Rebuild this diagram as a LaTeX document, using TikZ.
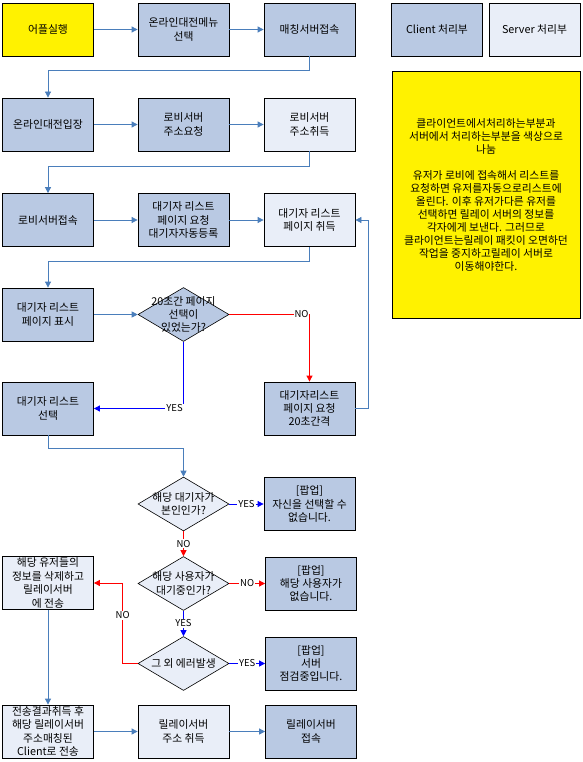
\documentclass[tikz,border=0pt]{standalone}
\usepackage{fontspec}
\setmainfont{Noto Sans CJK KR}
\usetikzlibrary{shapes.geometric,arrows.meta}
\definecolor{bgray}{HTML}{B9C9E3}
\definecolor{lgray}{HTML}{E9EEF8}
\definecolor{cblue}{HTML}{4A7EBB}
\begin{document}
\begin{tikzpicture}[x=1pt,y=-1pt,font=\fontsize{10.8}{13.4}\selectfont,
  box/.style={draw=black,line width=0.8pt,minimum width=91pt,minimum height=53pt,inner sep=1pt,align=center},
  cbox/.style={box,fill=bgray},
  sbox/.style={box,fill=lgray},
  ybox/.style={box,fill=yellow},
  dia/.style={diamond,draw=black,line width=0.6pt,minimum width=91pt,minimum height=54pt,inner sep=0pt},
  dtext/.style={align=center,inner sep=0pt},
  tip/.style={-{Triangle[length=6pt,width=6pt]}},
  conn/.style={draw=cblue,line width=0.8pt,tip},
  yesl/.style={draw=blue,line width=0.8pt,tip},
  nol/.style={draw=red,line width=0.8pt,tip},
  lab/.style={fill=white,inner sep=1pt,text=black,font=\fontsize{9.5}{10}\selectfont}]
\useasboundingbox (0,0) rectangle (582,762);
\fill[white] (0,0) rectangle (582,762);
% row 1
\node[ybox] (app) at (48,29.5) {어플실행};
\node[cbox] (menu) at (183.5,29.5) {온라인대전메뉴\\선택};
\node[cbox] (match) at (309.5,29.5) {매칭서버접속};
\node[cbox] (clientk) at (437,29.5) {Client 처리부};
\node[sbox] (serverk) at (534.5,29.5) {Server 처리부};
% row 2
\node[cbox] (enter) at (48,124.5) {온라인대전입장};
\node[cbox] (lreq) at (183.5,124.5) {로비서버\\주소요청};
\node[sbox] (lget) at (309.5,124.5) {로비서버\\주소취득};
% note
\node[box,fill=yellow,minimum width=188pt,minimum height=247pt,font=\fontsize{10.8}{13}\selectfont] (note) at (486,194.5) {클라이언트에서처리하는부분과\\서버에서 처리하는부분을 색상으로\\나눔\\[13pt]유저가 로비에 접속해서 리스트를\\요청하면 유저를자동으로리스트에\\올린다. 이후 유저가다른 유저를\\선택하면 릴레이 서버의 정보를\\각자에게 보낸다. 그러므로\\클라이언트는릴레이 패킷이 오면하던\\작업을 중지하고릴레이 서버로\\이동해야한다.};
% row 3
\node[cbox] (lconn) at (48,220) {로비서버접속};
\node[cbox] (wreq) at (183.5,220) {대기자 리스트\\페이지 요청\\대기자자동등록};
\node[sbox] (wget) at (309.5,220) {대기자 리스트\\페이지 취득};
% row 4
\node[cbox] (wshow) at (48,314.5) {대기자 리스트\\페이지 표시};
\node[dia,fill=bgray] (d1) at (183.5,314.5) {};
\node[dtext] at (d1) {20초간 페이지\\선택이\\있었는가?};
% row 5
\node[cbox] (wsel) at (48,408.5) {대기자 리스트\\선택};
\node[cbox] (req20) at (309.5,408.5) {대기자리스트\\페이지 요청\\20초간격};
% decisions
\node[dia,fill=lgray] (d2) at (183.5,504) {};
\node[dtext] at (d2) {해당 대기자가\\본인인가?};
\node[cbox] (pop1) at (309.5,504) {[팝업]\\자신을 선택할 수\\없습니다.};
\node[dia,fill=lgray] (d3) at (183.5,583.5) {};
\node[dtext] at (d3) {해당 사용자가\\대기중인가?};
\node[cbox] (pop2) at (311,583.5) {[팝업]\\해당 사용자가\\없습니다.};
\node[dia,fill=lgray] (d4) at (183.5,663.5) {};
\node[dtext] at (d4) {그 외 에러발생};
\node[cbox] (pop3) at (311,663.5) {[팝업]\\서버\\점검중입니다.};
\node[sbox] (del) at (48,583) {해당 유저들의\\정보를 삭제하고\\릴레이서버\\에 전송};
% bottom row
\node[sbox] (sendres) at (48,731.5) {전송결과취득 후\\해당 릴레이서버\\주소매칭된\\Client로 전송};
\node[sbox] (rget) at (183.5,731.5) {릴레이서버\\주소 취득};
\node[cbox] (rconn) at (311,731.5) {릴레이서버\\접속};
% connectors
\draw[conn] (app) -- (menu);
\draw[conn] (menu) -- (match);
\draw[conn] (match.south) -- ++(0,14) -| (enter.north);
\draw[conn] (enter) -- (lreq);
\draw[conn] (lreq) -- (lget);
\draw[conn] (lget.south) -- ++(0,15) -| (lconn.north);
\draw[conn] (lconn) -- (wreq);
\draw[conn] (wreq) -- (wget);
\draw[conn] (wget.south) -- ++(0,14) -| (wshow.north);
\draw[conn] (wshow) -- (d1);
\draw[nol] (d1.east) -| node[lab,pos=0.45]{NO} (req20.north);
\draw[yesl] (d1.south) |- node[lab,pos=0.55]{YES} (wsel.east);
\draw[conn] (req20.east) -- ++(13,0) |- (wget.east);
\draw[conn] (wsel.south) -- ++(0,13) -| (d2.north);
\draw[yesl] (d2.east) -- node[lab]{YES} (pop1.west);
\draw[nol] (d2.south) -- node[lab]{NO} (d3.north);
\draw[nol] (d3.east) -- node[lab]{NO} (pop2.west);
\draw[yesl] (d3.south) -- node[lab]{YES} (d4.north);
\draw[yesl] (d4.east) -- node[lab]{YES} (pop3.west);
\draw[nol] (d4.west) -- ++(-15,0) |- node[lab,pos=0.3]{NO} (del.east);
\draw[conn] (del.south) -- (sendres.north);
\draw[conn] (sendres) -- (rget);
\draw[conn] (rget) -- (rconn);
\end{tikzpicture}
\end{document}
